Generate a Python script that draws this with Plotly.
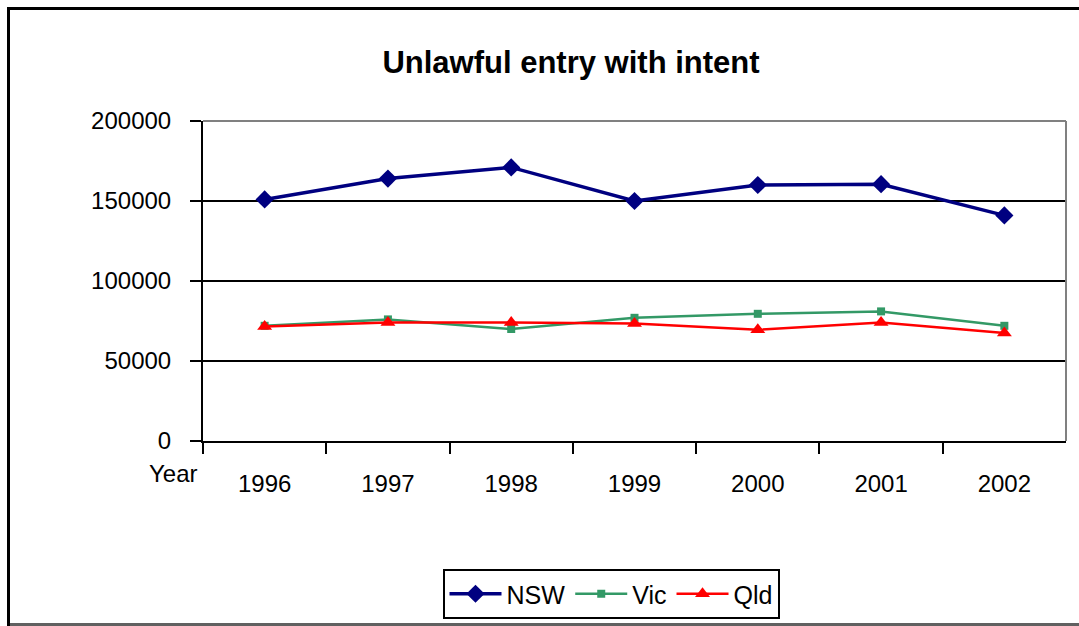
import plotly.graph_objects as go

# Unlawful entry with intent, recorded offences by state
years = ["1996", "1997", "1998", "1999", "2000", "2001", "2002"]
nsw = [151000, 164000, 171000, 150000, 160000, 160500, 141000]
vic = [72000, 76000, 70000, 77000, 79500, 81000, 72000]
qld = [71500, 74000, 74000, 73500, 69500, 74000, 67500]

W, H = 1079, 626
FONT = "Liberation Sans, Arial, sans-serif"

# plot area in pixels
px_left, px_right = 203, 1066
px_top, px_bottom = 121, 441

fig = go.Figure()
fig.add_trace(go.Scatter(
    x=years, y=nsw, name="NSW", mode="lines+markers",
    line=dict(color="#000080", width=3.5),
    marker=dict(symbol="diamond", size=14, color="#000080"),
))
fig.add_trace(go.Scatter(
    x=years, y=vic, name="Vic", mode="lines+markers",
    line=dict(color="#339966", width=2.5),
    marker=dict(symbol="square", size=8, color="#339966"),
))
fig.add_trace(go.Scatter(
    x=years, y=qld, name="Qld", mode="lines+markers",
    line=dict(color="#FF0000", width=2.5),
    marker=dict(symbol="triangle-up", size=13, color="#FF0000"),
))

fig.update_layout(
    width=W, height=H,
    margin=dict(l=0, r=0, t=0, b=0, autoexpand=False),
    paper_bgcolor="white", plot_bgcolor="white",
    font=dict(family=FONT, size=24, color="black"),
    title=dict(
        text="<b>Unlawful entry with intent</b>",
        x=571 / W, xanchor="center", xref="paper",
        y=1 - 62 / H, yanchor="middle", yref="container",
        font=dict(family=FONT, size=31, color="black"),
    ),
    xaxis=dict(
        type="category",
        domain=[px_left / W, px_right / W],
        range=[-0.5, 6.5],
        tickson="boundaries",
        ticks="outside", ticklen=11, tickwidth=2, tickcolor="black",
        showline=True, linecolor="black", linewidth=2,
        showgrid=False, zeroline=False, automargin=False,
        ticklabelstandoff=20,
        tickfont=dict(family=FONT, size=24, color="black"),
    ),
    yaxis=dict(
        domain=[1 - px_bottom / H, 1 - px_top / H],
        range=[0, 200000], dtick=50000, tickformat="d",
        ticks="outside", ticklen=11, tickwidth=2, tickcolor="black",
        showline=True, linecolor="black", linewidth=2,
        showgrid=True, gridcolor="black", gridwidth=2,
        zeroline=False, automargin=False,
        ticklabelstandoff=14,
        tickfont=dict(family=FONT, size=24, color="black"),
    ),
    legend=dict(
        orientation="h",
        xref="container", yref="container",
        x=611 / W, xanchor="center",
        y=1 - 594 / H, yanchor="middle",
        bordercolor="black", borderwidth=2,
        bgcolor="white",
        font=dict(family=FONT, size=25, color="black"),
        itemsizing="trace",
        itemwidth=52,
    ),
    showlegend=True,
)

# plot area border on the top and right in grey
fig.add_shape(type="line", xref="paper", yref="paper",
              x0=px_left / W, x1=px_right / W, y0=1 - px_top / H, y1=1 - px_top / H,
              line=dict(color="#808080", width=2))
fig.add_shape(type="line", xref="paper", yref="paper",
              x0=px_right / W, x1=px_right / W, y0=1 - px_top / H, y1=1 - px_bottom / H,
              line=dict(color="#808080", width=2))

# outer chart frame
fig.add_shape(type="line", xref="paper", yref="paper",
              x0=7 / W, x1=1.0, y0=1 - 8.5 / H, y1=1 - 8.5 / H,
              line=dict(color="black", width=3))
fig.add_shape(type="line", xref="paper", yref="paper",
              x0=8.5 / W, x1=8.5 / W, y0=1 - 7 / H, y1=0,
              line=dict(color="black", width=3))
fig.add_shape(type="line", xref="paper", yref="paper",
              x0=10 / W, x1=1.0, y0=1 - 624.5 / H, y1=1 - 624.5 / H,
              line=dict(color="#606060", width=3))

# category axis caption
fig.add_annotation(text="Year", xref="paper", yref="paper",
                   x=173 / W, y=1 - 473 / H, xanchor="center", yanchor="middle",
                   showarrow=False, font=dict(family=FONT, size=24, color="black"))

fig.write_html("out.html")
